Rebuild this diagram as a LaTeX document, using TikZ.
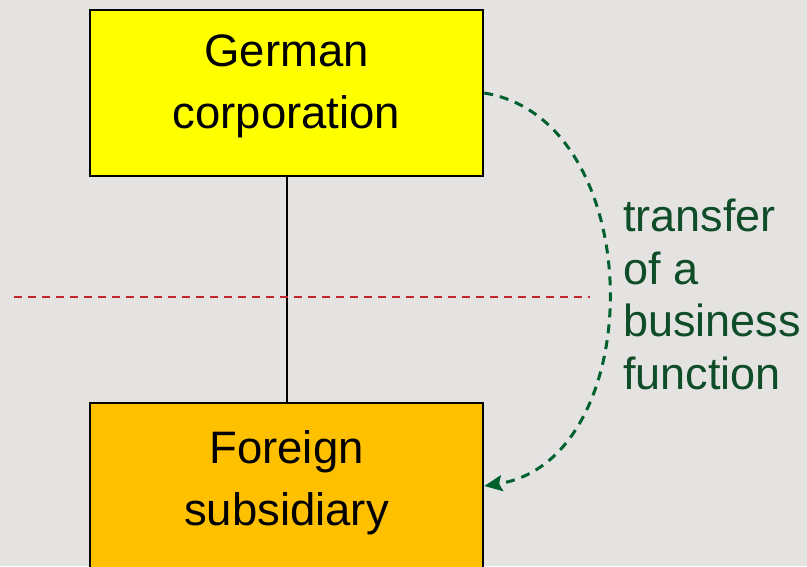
\documentclass[tikz,border=0pt]{standalone}
\usepackage{fontspec}
\setmainfont{Liberation Sans}
\usetikzlibrary{arrows.meta}

\definecolor{bgpaper}{HTML}{E5E2E2}
\definecolor{boxyellow}{HTML}{FFFF00}
\definecolor{boxorange}{HTML}{FFC000}
\definecolor{flowgreen}{HTML}{00612F}
\definecolor{labelgreen}{HTML}{0E4D28}
\definecolor{borderred}{HTML}{C0282D}

\tikzset{
  entity/.style={draw=black, line width=2.5pt, minimum width=393pt,
    minimum height=166pt, inner sep=0pt},
  entitytext/.style={anchor=north, inner sep=0pt, align=center,
    font=\fontsize{45.5}{62}\selectfont},
  transferflow/.style={draw=flowgreen, line width=3pt,
    dash pattern=on 9pt off 7pt,
    -{Stealth[length=18pt,width=16pt,inset=3pt]}},
  borderline/.style={draw=borderred, line width=2.2pt,
    dash pattern=on 8pt off 6pt},
  transferlabel/.style={anchor=north west, inner sep=0pt, align=left,
    text=labelgreen, font=\fontsize{45}{52.5}\selectfont},
}

\begin{document}
\begin{tikzpicture}[x=1pt, y=-1pt]
  % canvas
  \fill[bgpaper] (0,0) rectangle (807,566);
  \useasboundingbox (0,0) rectangle (807,566);
  \clip (0,0) rectangle (807,566);

  % the two companies
  \node[entity, fill=boxyellow] (parent) at (286.5,93) {};
  \node[entity, fill=boxorange] (sub) at (286.5,486) {};
  \node[entitytext] (parenttext) at (286.5,35) {German\\corporation};
  \node[entitytext] (subtext) at (286.5,430) {Foreign\\subsidiary};

  % ownership link
  \draw[black, line width=2pt] (parent.south) -- (sub.north);

  % national border
  \coordinate (borderW) at (14,297);
  \coordinate (borderE) at (590,297);
  \draw[borderline] (borderW) -- (borderE);

  % transfer of the function
  \draw[transferflow] (parent.east) .. controls (650,120) and (650,460) .. (sub.east);
  \node[transferlabel] (transfer) at (623,199) {transfer\\of a\\business\\function};
\end{tikzpicture}
\end{document}
